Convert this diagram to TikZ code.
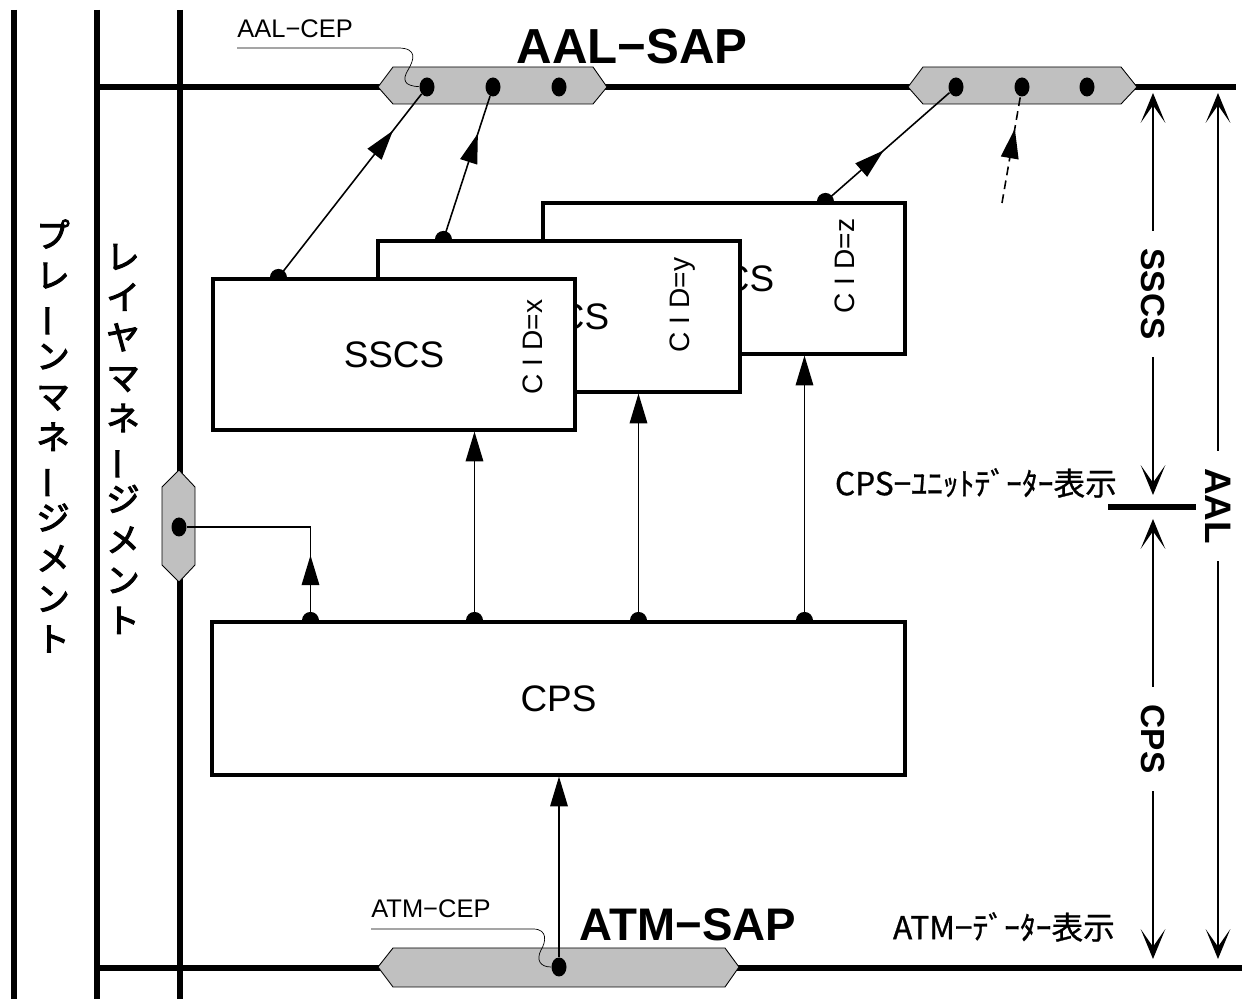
\documentclass[tikz,border=0pt]{standalone}
\usepackage{fontspec}
\setmainfont{Liberation Sans}
\newfontfamily\jp[FakeBold=0.8]{Noto Sans CJK JP}
\newfontfamily\jpv[FakeBold=3]{Noto Sans CJK JP}
\usetikzlibrary{arrows.meta,shapes.geometric,decorations.markings,calc}
\definecolor{hexgray}{RGB}{192,192,192}
\newcommand\vbar{\rotatebox[origin=c]{90}{ー}}
\tikzset{
  bus/.style={line width=3.8pt},
  hexpad/.style={draw, line width=0.5pt, fill=hexgray},
  dotpt/.style={ellipse, fill, inner sep=0pt, minimum width=0.3cm, minimum height=0.38cm},
  layerbox/.style={draw, line width=1.8pt, fill=white, minimum width=7.24cm, minimum height=3.02cm, font=\fontsize{21}{24}\selectfont},
  conn/.style={line width=0.9pt},
  tri/.tip={Triangle[length=17pt,width=10pt]},
  barb/.tip={Stealth[length=17pt,width=14pt,inset=10pt]},
  midtri/.style={postaction={decorate,decoration={markings,mark=at position #1 with {\arrow{tri}}}}},
  dimline/.style={line width=0.9pt, {barb}-{barb}},
  dimlabel/.style={midway, fill=white, rotate=-90, inner xsep=0.35cm, font=\bfseries\fontsize{19}{22}\selectfont},
  vtext/.style={align=center, inner sep=0pt, font=\jpv\fontsize{19}{23}\selectfont},
  cidlabel/.style={rotate=90, font=\fontsize{16}{18}\selectfont},
  halfdot/.pic={\fill (-8.5,0) arc[start angle=180,end angle=360,radius=8.5] -- cycle;},
}
\begin{document}
\begin{tikzpicture}[x=0.02cm,y=-0.02cm]
\useasboundingbox (0,0) rectangle (1242,999);
% management planes and SAP lines
\draw[bus] (14,10) -- (14,999);
\draw[bus] (97,10) -- (97,999);
\draw[bus] (180,10) -- (180,999);
\draw[bus] (97,87) -- (1236,87);
\draw[bus] (97,968) -- (1242,968);
\node[vtext] (plane) at (53,436) {プ\\レ\\\vbar\\ン\\マ\\ネ\\\vbar\\ジ\\メ\\ン\\ト};
\node[vtext] (layer) at (123,439) {レ\\イ\\ヤ\\マ\\ネ\\\vbar\\ジ\\メ\\ン\\ト};
% SAPs
\draw[hexpad] (378,87) -- (393,67) -- (593,67) -- (607,87) -- (593,104) -- (393,104) -- cycle;
\draw[hexpad] (908,87) -- (923,67) -- (1121,67) -- (1137,87) -- (1121,104) -- (923,104) -- cycle;
\draw[hexpad] (378,967) -- (393,948) -- (725,948) -- (739,967) -- (725,987) -- (393,987) -- cycle;
\draw[hexpad] (179,470) -- (195,487) -- (195,565) -- (179,582) -- (162,565) -- (162,487) -- cycle;
\node[dotpt] (a1) at (427,87) {};
\node[dotpt] (a2) at (493,87) {};
\node[dotpt] (a3) at (559,87) {};
\node[dotpt] (b1) at (956,87) {};
\node[dotpt] (b2) at (1022,87) {};
\node[dotpt] (b3) at (1087,87) {};
\node[dotpt] (t1) at (559,967) {};
\node[dotpt] (lm) at (179,527) {};
\node[font=\bfseries\fontsize{28}{32}\selectfont] (aalsap) at (632,47) {AAL−SAP};
\node[font=\bfseries\fontsize{26}{30}\selectfont] (atmsap) at (688,925) {ATM−SAP};
\node[font=\fontsize{14.5}{16}\selectfont, anchor=base west, inner sep=0pt] (aalcep) at (237,38) {AAL−CEP};
\node[font=\fontsize{14.5}{16}\selectfont, anchor=base west, inner sep=0pt] (atmcep) at (371,918) {ATM−CEP};
\coordinate (aalcepL) at (237,48);
\coordinate (atmcepL) at (371,929);
\draw[thin] (aalcepL) -- (398,48) .. controls (418,48) and (414,60) .. (408,70) .. controls (402,80) and (404,86) .. (a1);
\draw[thin] (atmcepL) -- (533,929) .. controls (548,929) and (546,942) .. (541,950) .. controls (536,960) and (540,967) .. (t1);
% SSCS and CPS
\node[layerbox] (bz) at (724,278.5) {SSCS};
\node[cidlabel] (cidz) at (845,266) {C I D=z};
\node[layerbox] (by) at (559,316.5) {SSCS};
\node[cidlabel] (cidy) at (683,305) {C I D=y};
\node[layerbox] (bx) at (394,354.5) {SSCS};
\node[cidlabel] (cidx) at (533,347) {C I D=x};
\node[layerbox, minimum width=13.86cm, minimum height=3.06cm] (cps) at (558.5,698.5) {CPS};
\coordinate (sx) at ($(bx.north west)+(67,0)$);
\coordinate (sy) at ($(by.north west)+(67,0)$);
\coordinate (sz) at ($(bz.north west)+(284,0)$);
\coordinate (c1) at ($(cps.north west)+(100,0)$);
\coordinate (c2) at ($(cps.north west)+(264,0)$);
\coordinate (c3) at ($(cps.north west)+(428,0)$);
\coordinate (c4) at ($(cps.north west)+(594,0)$);
\coordinate (bfree) at (1002,203);
\foreach \p in {sx,sy,sz,c1,c2,c3,c4} \pic at (\p) {halfdot};
\draw[conn, midtri=0.8] (sx) -- (a1);
\draw[conn, midtri=0.74] (sy) -- (a2);
\draw[conn, midtri=0.47] (sz) -- (b1);
\draw[conn, dashed, dash pattern=on 5pt off 3pt, midtri=0.7] (bfree) -- (b2);
\draw[conn, midtri=0.3] (c1) -- (c1 |- lm) -- (lm);
\draw[conn, -{tri}] (c2) -- (c2 |- bx.south);
\draw[conn, -{tri}] (c3) -- (c3 |- by.south);
\draw[conn, -{tri}] (c4) -- (c4 |- bz.south);
\draw[conn, -{tri}] (t1) -- (t1 |- cps.south);
% right-hand ranges
\draw[dimline] (1153,93) -- node[dimlabel] {SSCS} (1153,495);
\draw[line width=3.8pt] (1108,507) -- (1196,507);
\draw[dimline] (1153,519) -- node[dimlabel] {CPS} (1153,959);
\draw[dimline] (1218,93) -- node[dimlabel, pos=0.477, font=\bfseries\fontsize{21}{24}\selectfont] {AAL} (1218,959);
\node[font=\jp\fontsize{18}{20}\selectfont, anchor=east] (cpsind) at (1123,483) {CPS−ﾕﾆｯﾄﾃﾞｰﾀｰ表示};
\node[font=\jp\fontsize{18}{20}\selectfont, anchor=east] (atmind) at (1121,927) {ATM−ﾃﾞｰﾀｰ表示};
\end{tikzpicture}
\end{document}
